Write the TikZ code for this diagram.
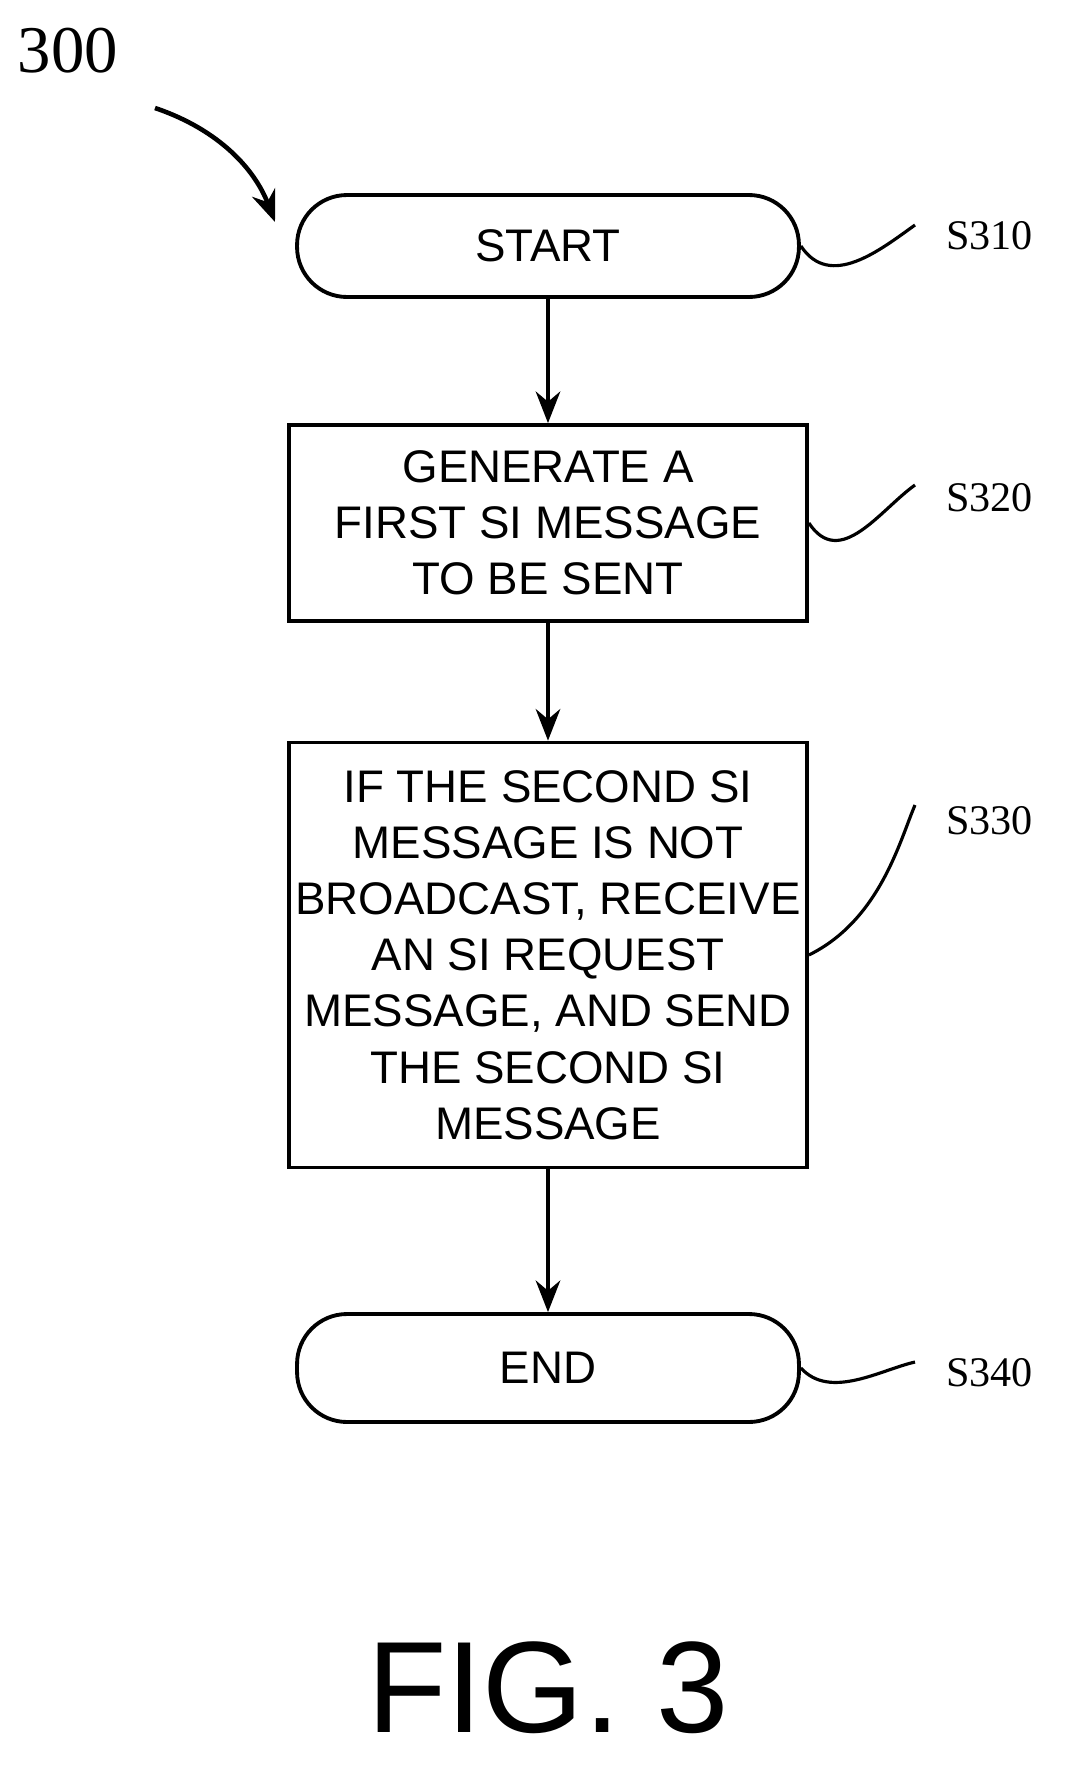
\documentclass[tikz,border=0pt]{standalone}
\usepackage{fontspec}
\setmainfont{Liberation Serif}
\newfontfamily\arialf{Liberation Sans}
\usetikzlibrary{arrows.meta}
\begin{document}
\begin{tikzpicture}[x=0.02cm,y=-0.02cm,
  box/.style={draw,line width=2.2pt,align=center,font=\arialf\fontsize{26}{32}\selectfont,inner sep=0pt},
  term/.style={box,rounded corners=1.0cm},
  arr/.style={-{Stealth[length=18pt,width=14pt]},line width=2pt},
  sq/.style={line width=1.8pt},
  lab/.style={font=\fontsize{24}{28}\selectfont,anchor=west}]
\useasboundingbox (0,0) rectangle (1065,1766);
\node[term,minimum width=10.04cm,minimum height=2.04cm] (s1) at (548,246) {START};
\node[box,minimum width=10.36cm,minimum height=3.92cm] (s2) at (548,523) {GENERATE A\\FIRST SI MESSAGE\\TO BE SENT};
\node[box,minimum width=10.36cm,minimum height=8.5cm] (s3) at (548,955) {IF THE SECOND SI\\MESSAGE IS NOT\\BROADCAST, RECEIVE\\AN SI REQUEST\\MESSAGE, AND SEND\\THE SECOND SI\\MESSAGE};
\node[term,minimum width=10.04cm,minimum height=2.16cm] (s4) at (548,1368) {END};
\draw[arr] (s1) -- (s2);
\draw[arr] (s2) -- (s3);
\draw[arr] (s3) -- (s4);
\node[lab] (l1) at (940,236) {S310};
\node[lab] (l2) at (940,498) {S320};
\node[lab] (l3) at (940,821) {S330};
\node[lab] (l4) at (940,1373) {S340};
\draw[sq] (s1.east) .. controls (830,290) and (880,250) .. (915,225);
\draw[sq] (s2.east) .. controls (840,570) and (880,510) .. (915,485);
\draw[sq] (s3.east) .. controls (880,920) and (900,840) .. (915,805);
\draw[sq] (s4.east) .. controls (830,1400) and (880,1370) .. (915,1362);
\node[font=\fontsize{38}{40}\selectfont] (t) at (68,51) {300};
\coordinate (a0) at (155,108);
\coordinate (a1) at (275,222);
\draw[arr,line width=2.6pt] (a0) .. controls (220,130) and (255,170) .. (a1);
\node[font=\arialf\fontsize{74}{74}\selectfont] (fig) at (548,1688) {FIG. 3};
\end{tikzpicture}
\end{document}
